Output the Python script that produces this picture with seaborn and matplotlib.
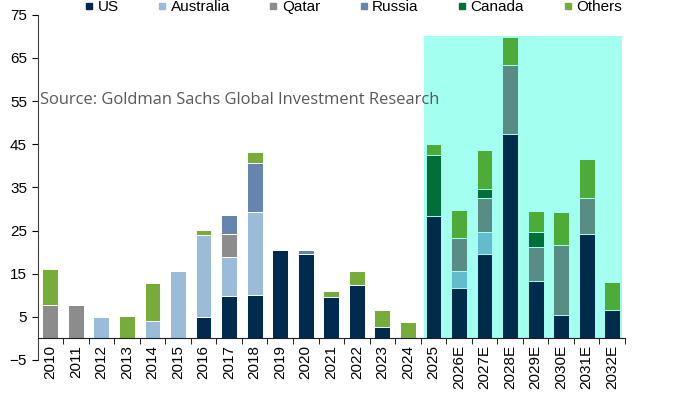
import numpy as np
import pandas as pd
import matplotlib
matplotlib.use("Agg")
import matplotlib.pyplot as plt
from matplotlib.patches import Rectangle
from matplotlib.lines import Line2D
from matplotlib.colors import to_rgb
import seaborn as sns

# values (stack order bottom -> top)
years = ["2010", "2011", "2012", "2013", "2014", "2015", "2016", "2017", "2018",
         "2019", "2020", "2021", "2022", "2023", "2024", "2025", "2026E", "2027E",
         "2028E", "2029E", "2030E", "2031E", "2032E"]
us = [0, 0, 0, 0, 0, 0, 5.0, 9.9, 10.1, 20.4, 19.5, 9.5, 12.3, 2.6, 0, 28.4,
      11.7, 19.5, 47.4, 13.3, 5.5, 24.3, 6.7]
australia = [0, 0, 5.0, 0, 4.0, 15.6, 19.0, 9.0, 19.2, 0, 0, 0, 0, 0, 0, 0,
             3.9, 5.2, 0, 0, 0, 0, 0]
qatar = [7.7, 7.7, 0, 0, 0, 0, 0, 5.2, 0, 0, 0, 0, 0, 0, 0, 0,
         7.7, 7.8, 16.0, 8.0, 16.1, 8.3, 0]
russia = [0, 0, 0, 0, 0, 0, 0, 4.6, 11.3, 0, 1.0, 0, 0, 0, 0, 0,
          0, 0, 0, 0, 0, 0, 0]
canada = [0, 0, 0, 0, 0, 0, 0, 0, 0, 0, 0, 0, 0, 0, 0, 14.2,
          0, 2.1, 0, 3.4, 0, 0, 0]
others = [8.4, 0, 0, 5.2, 8.9, 0, 1.2, 0, 2.5, 0, 0, 1.5, 3.3, 3.9, 3.7, 2.4,
          6.5, 9.1, 6.5, 4.8, 7.6, 9.0, 6.4]

series_names = ["US", "Australia", "Qatar", "Russia", "Canada", "Others"]
series_vals = [us, australia, qatar, russia, canada, others]
colors = ["#002B4F", "#9ABCD8", "#8C8C8C", "#6685AE", "#00703C", "#78AC3A"]

highlight = "#A3FFF0"
first_hl = years.index("2025")

df = pd.DataFrame({"year": years})
cum = np.zeros(len(years))
for name, vals in zip(series_names, series_vals):
    cum = cum + np.array(vals)
    df[name] = cum


def blend(c, i):
    # shaded forecast area looks like a multiply blend with the cyan box
    if i < first_hl:
        return c
    a = np.array(to_rgb(c)) * np.array(to_rgb(highlight))
    return tuple(a)


fig = plt.figure(figsize=(7, 3.94), dpi=100)
ax = fig.add_axes([0.0536, 0.0863, 0.8393, 0.876])

# draw cumulative totals from the top layer down so lower series cover them
for name, col in reversed(list(zip(series_names, colors))):
    pal = {y: blend(col, i) for i, y in enumerate(years)}
    sns.barplot(data=df, x="year", y=name, hue="year", palette=pal,
                order=years, hue_order=years, legend=False, errorbar=None,
                width=0.62, saturation=1, ax=ax, zorder=2)

for p in ax.patches:
    xc = p.get_x() + p.get_width() / 2
    p.set_edgecolor(blend("white", int(round(xc))))
    p.set_linewidth(0.7)

ax.add_patch(Rectangle((14.62, 0), 7.78, 70, facecolor=highlight,
                       edgecolor="none", zorder=0.5))

ax.set_xlim(-0.5, len(years) - 0.5)
ax.set_ylim(-5, 75)
ax.set_yticks(np.arange(-5, 76, 10))
ax.set_xlabel("")
ax.set_ylabel("")

for s in ["top", "right"]:
    ax.spines[s].set_visible(False)
ax.spines["bottom"].set_position(("data", 0))
ax.spines["left"].set_color("#404040")
ax.spines["bottom"].set_color("#202020")

ax.set_xticks(np.arange(len(years)))
ax.set_xticklabels(years, rotation=90, fontsize=11, family="Liberation Sans")
ax.set_xticks(np.arange(len(years) + 1) - 0.5, minor=True)
ax.tick_params(axis="x", which="major", length=0, pad=5)
ax.tick_params(axis="x", which="minor", length=4, direction="out")
ax.tick_params(axis="y", length=4, direction="out", labelsize=11)
for t in ax.get_yticklabels():
    t.set_family("Liberation Sans")

handles = [Line2D([], [], marker="s", linestyle="none", markersize=4,
                  color=c) for c in colors]
fig.legend(handles, series_names, loc="upper center", ncol=6,
           bbox_to_anchor=(0.505, 1.035), frameon=False,
           prop={"family": "Liberation Sans", "size": 11},
           handlelength=0.5, handletextpad=0.3, columnspacing=2.6)

fig.text(0.057, 0.746, "Source: Goldman Sachs Global Investment Research",
         family="Open Sans", fontsize=11.9, color="#595959", va="center")

fig.savefig("out.png", dpi=100)
